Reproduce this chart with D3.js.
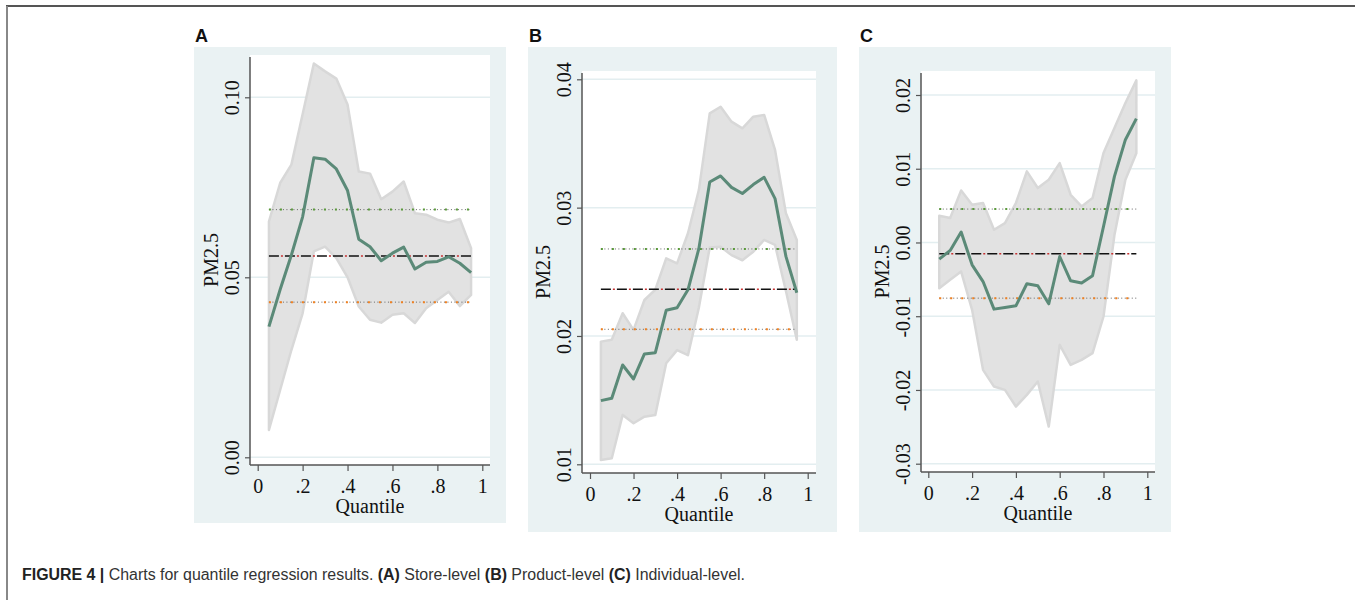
<!DOCTYPE html>
<html>
<head>
<meta charset="utf-8">
<script src="https://cdn.jsdelivr.net/npm/d3@7"></script>
<style>
  body { margin: 0; background: #fff; }
  svg { display: block; }
</style>
</head>
<body>
<div id="chart"></div>
<script>
// quantiles 0.05 .. 0.95
const quantiles = [0.05, 0.10, 0.15, 0.20, 0.25, 0.30, 0.35, 0.40, 0.45, 0.50,
                   0.55, 0.60, 0.65, 0.70, 0.75, 0.80, 0.85, 0.90, 0.95];

// Panel A: store-level
const estA = [0.0363, 0.0466, 0.0562, 0.0668, 0.0832, 0.0828, 0.0801, 0.0741, 0.0606, 0.0585,
              0.0546, 0.0567, 0.0584, 0.0523, 0.0542, 0.0544, 0.0557, 0.0539, 0.0513];
const upA  = [0.0655, 0.0762, 0.0813, 0.0953, 0.1094, 0.1072, 0.1052, 0.0980, 0.0794, 0.0788,
              0.0717, 0.0738, 0.0766, 0.0678, 0.0674, 0.0660, 0.0652, 0.0662, 0.0581];
const loA  = [0.0076, 0.0187, 0.0298, 0.0400, 0.0572, 0.0585, 0.0553, 0.0500, 0.0419, 0.0382,
              0.0374, 0.0396, 0.0400, 0.0373, 0.0414, 0.0437, 0.0460, 0.0420, 0.0451];
const refA = [0.0688, 0.0559, 0.0431];   // upper CI, OLS, lower CI
const ticksA = [0.00, 0.05, 0.10];

// Panel B: product-level
const estB = [0.01496, 0.01515, 0.01774, 0.01665, 0.0186, 0.0187, 0.0220, 0.0222, 0.0236, 0.0268,
              0.0320, 0.03247, 0.03158, 0.0311, 0.0318, 0.03236, 0.0307, 0.0262, 0.02337];
const upB  = [0.01956, 0.0197, 0.02177, 0.02047, 0.0228, 0.0236, 0.02605, 0.02566, 0.0280, 0.03137,
              0.03735, 0.03786, 0.0367, 0.03618, 0.03709, 0.03722, 0.0345, 0.02956, 0.02748];
const loB  = [0.01034, 0.01047, 0.01385, 0.0132, 0.01371, 0.01385, 0.01787, 0.0189, 0.0185, 0.0222,
              0.0269, 0.02696, 0.0263, 0.0259, 0.02657, 0.02748, 0.0271, 0.0235, 0.0197];
const refB = [0.02678, 0.02364, 0.02052];
const ticksB = [0.01, 0.02, 0.03, 0.04];

// Panel C: individual-level
const estC = [-0.00226, -0.00108, 0.00141, -0.00303, -0.0053, -0.00904, -0.00882, -0.00859, -0.0056, -0.00588,
              -0.00832, -0.0019, -0.0052, -0.0055, -0.0045, 0.00217, 0.00896, 0.01394, 0.01679];
const upC  = [0.00362, 0.00331, 0.00706, 0.00512, 0.00535, 0.00172, 0.00263, 0.00535, 0.00964, 0.00738,
              0.00851, 0.01077, 0.00647, 0.00489, 0.00602, 0.01213, 0.01552, 0.01892, 0.02198];
const loC  = [-0.0062, -0.00506, -0.00394, -0.00913, -0.01727, -0.01954, -0.01999, -0.02225, -0.02067, -0.01886,
              -0.02497, -0.01388, -0.0166, -0.01592, -0.01501, -0.01004, 0.0010, 0.0085, 0.0121];
const refC = [0.00453, -0.00153, -0.00755];
const ticksC = [-0.03, -0.02, -0.01, 0.00, 0.01, 0.02];

const xTicks = [0, 0.2, 0.4, 0.6, 0.8, 1];
const xTickLabels = ['0', '.2', '.4', '.6', '.8', '1'];

// Stata style labels use a plain hyphen for negatives
const fmt2 = d => d3.format('.2f')(d).replace('\u2212', '-');

const panels = [
    {letter: 'A', est: estA, up: upA, lo: loA, ref: refA, ticks: ticksA,
     box: [194, 47, 506, 523], plot: [250, 55, 490, 465], yDom: [0, 0.10], yRng: [457.3, 97.3], xRng: [257.7, 482.3]},
    {letter: 'B', est: estB, up: upB, lo: loB, ref: refB, ticks: ticksB,
     box: [528, 47, 837, 532], plot: [582, 71, 816, 473], yDom: [0.01, 0.04], yRng: [464.3, 79.3], xRng: [590, 807.7]},
    {letter: 'C', est: estC, up: upC, lo: loC, ref: refC, ticks: ticksC,
     box: [859, 47, 1171, 532], plot: [921, 71, 1155, 472], yDom: [-0.03, 0.02], yRng: [463.7, 95], xRng: [928.3, 1147.3]}
];

const svg = d3.select('#chart').append('svg')
    .attr('width', 1355)
    .attr('height', 600);

// page frame
svg.append('line').attr('x1', 6).attr('x2', 1355).attr('y1', 6).attr('y2', 6)
    .attr('stroke', '#555').attr('stroke-width', 2);
svg.append('line').attr('x1', 7).attr('x2', 7).attr('y1', 6).attr('y2', 600)
    .attr('stroke', '#888').attr('stroke-width', 2);

panels.forEach(p => {
    const g = svg.append('g');
    const [bx0, by0, bx1, by1] = p.box;
    const [px0, py0, px1, py1] = p.plot;

    g.append('rect').attr('x', bx0).attr('y', by0)
        .attr('width', bx1 - bx0).attr('height', by1 - by0)
        .attr('fill', '#eaf2f3');
    g.append('rect').attr('x', px0).attr('y', py0)
        .attr('width', px1 - px0).attr('height', py1 - py0)
        .attr('fill', '#fff');

    g.append('text')
        .attr('x', bx0 + 1).attr('y', 42)
        .attr('font-family', 'Liberation Sans, Arial, sans-serif')
        .attr('font-weight', 'bold').attr('font-size', 18)
        .attr('fill', '#111')
        .text(p.letter);

    const x = d3.scaleLinear().domain([0, 1]).range(p.xRng);
    const y = d3.scaleLinear().domain(p.yDom).range(p.yRng);

    // gridlines
    g.append('g').selectAll('line')
        .data(p.ticks)
        .enter().append('line')
        .attr('x1', px0).attr('x2', px1)
        .attr('y1', d => y(d)).attr('y2', d => y(d))
        .attr('stroke', '#e3eef0').attr('stroke-width', 1.5);

    // confidence band
    const area = d3.area()
        .x((d, i) => x(quantiles[i]))
        .y0((d, i) => y(p.lo[i]))
        .y1((d, i) => y(p.up[i]));
    g.append('path')
        .attr('d', area(quantiles))
        .attr('fill', '#e2e2e2')
        .attr('stroke', '#d8d8d8')
        .attr('stroke-width', 2.5)
        .attr('stroke-linejoin', 'round');

    // reference lines: upper CI (green), OLS (black/red), lower CI (orange)
    const xa = x(quantiles[0]), xb = x(quantiles[quantiles.length - 1]);
    const refStyles = [
        [{c: '#666', w: 1, dash: '1,2.5'}, {c: '#5a9a3a', w: 2, dash: '2,9', off: 0}],
        [{c: '#111', w: 1.6, dash: '10,6'}, {c: '#c83030', w: 1.6, dash: '2,14', off: -12}],
        [{c: '#666', w: 1, dash: '1,2.5'}, {c: '#f08020', w: 2, dash: '2,9', off: 0}]
    ];
    p.ref.forEach((v, i) => {
        refStyles[i].forEach(s => {
            g.append('line')
                .attr('x1', xa).attr('x2', xb)
                .attr('y1', y(v)).attr('y2', y(v))
                .attr('stroke', s.c).attr('stroke-width', s.w)
                .attr('stroke-dasharray', s.dash)
                .attr('stroke-dashoffset', s.off || 0);
        });
    });

    // estimate line
    const line = d3.line()
        .x((d, i) => x(quantiles[i]))
        .y((d, i) => y(p.est[i]));
    g.append('path')
        .attr('d', line(quantiles))
        .attr('fill', 'none')
        .attr('stroke', '#5b8a78')
        .attr('stroke-width', 3)
        .attr('stroke-linejoin', 'round');

    // axes
    g.append('line').attr('x1', px0).attr('x2', px0).attr('y1', py0 + 2).attr('y2', py1)
        .attr('stroke', '#555').attr('stroke-width', 1.5);
    g.append('line').attr('x1', px0).attr('x2', px1).attr('y1', py1).attr('y2', py1)
        .attr('stroke', '#555').attr('stroke-width', 1.5);

    const yAxis = g.append('g')
        .attr('transform', `translate(${px0},0)`)
        .call(d3.axisLeft(y).tickValues(p.ticks).tickFormat(fmt2).tickSize(5).tickSizeOuter(0));
    yAxis.select('.domain').remove();
    yAxis.selectAll('.tick line').attr('stroke', '#555').attr('stroke-width', 1.2);
    yAxis.selectAll('.tick text')
        .attr('x', null).attr('dy', null)
        .attr('transform', 'translate(-11,0) rotate(-90)')
        .attr('text-anchor', 'middle')
        .attr('font-family', 'Liberation Serif, Times New Roman, serif')
        .attr('font-size', 20)
        .attr('fill', '#111');

    const xAxis = g.append('g')
        .attr('transform', `translate(0,${py1})`)
        .call(d3.axisBottom(x).tickValues(xTicks)
            .tickFormat((d, i) => xTickLabels[i]).tickSize(6).tickSizeOuter(0));
    xAxis.select('.domain').remove();
    xAxis.selectAll('.tick line').attr('stroke', '#555').attr('stroke-width', 1.2);
    xAxis.selectAll('.tick text')
        .attr('y', 28).attr('dy', null)
        .attr('font-family', 'Liberation Serif, Times New Roman, serif')
        .attr('font-size', 20)
        .attr('fill', '#111');

    g.append('text')
        .attr('transform', `translate(${px0 - 32},${(py0 + py1) / 2}) rotate(-90)`)
        .attr('text-anchor', 'middle')
        .attr('font-family', 'Liberation Serif, Times New Roman, serif')
        .attr('font-size', 20)
        .attr('fill', '#111')
        .text('PM2.5');

    g.append('text')
        .attr('x', (px0 + px1) / 2).attr('y', py1 + 48)
        .attr('text-anchor', 'middle')
        .attr('font-family', 'Liberation Serif, Times New Roman, serif')
        .attr('font-size', 20)
        .attr('fill', '#111')
        .text('Quantile');
});

// caption
const caption = svg.append('text')
    .attr('x', 22).attr('y', 580)
    .attr('font-family', 'Liberation Sans, Arial, sans-serif')
    .attr('font-size', 16)
    .attr('textLength', 723)
    .attr('lengthAdjust', 'spacingAndGlyphs')
    .attr('fill', '#333');
const parts = [
    ['FIGURE 4 |', true], [' Charts for quantile regression results. ', false],
    ['(A)', true], [' Store-level ', false], ['(B)', true], [' Product-level ', false],
    ['(C)', true], [' Individual-level.', false]
];
parts.forEach(([t, b]) => {
    caption.append('tspan')
        .attr('font-weight', b ? 'bold' : 'normal')
        .attr('fill', b ? '#222' : '#333')
        .text(t);
});
</script>
</body>
</html>
